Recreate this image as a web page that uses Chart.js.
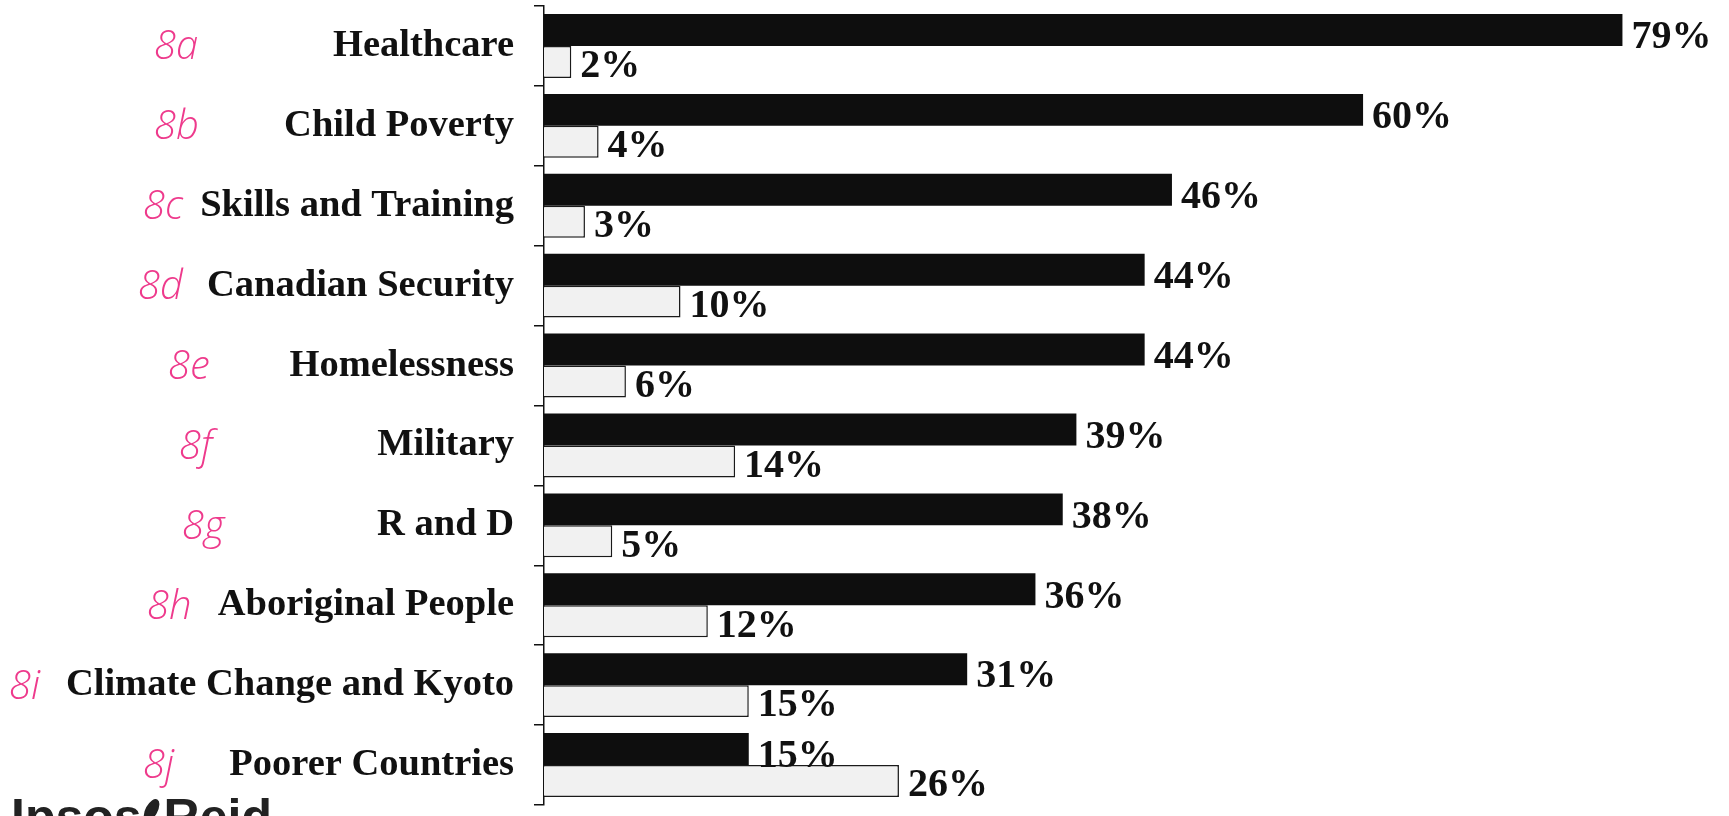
<!DOCTYPE html>
<html>
<head>
<meta charset="utf-8">
<script src="https://cdn.jsdelivr.net/npm/chart.js@4.4.0/dist/chart.umd.min.js"></script>
<style>
  html, body { margin: 0; padding: 0; background: #fff; }
  #wrap { width: 1729px; height: 816px; position: relative; }
</style>
</head>
<body>
<div id="wrap"><canvas id="myChart"></canvas></div>
<script>
/* globals Chart:false */

var issues = ['Healthcare', 'Child Poverty', 'Skills and Training', 'Canadian Security',
  'Homelessness', 'Military', 'R and D', 'Aboriginal People',
  'Climate Change and Kyoto', 'Poorer Countries'];
var highValues = [79, 60, 46, 44, 44, 39, 38, 36, 31, 15];
var lowValues = [2, 4, 3, 10, 6, 14, 5, 12, 15, 26];
var noteLabels = ['8a', '8b', '8c', '8d', '8e', '8f', '8g', '8h', '8i', '8j'];

// percentage text at the end of every bar
var barValueLabels = {
  id: 'barValueLabels',
  afterDatasetsDraw: function (chart) {
    var ctx = chart.ctx;
    var dy = [8, 5];
    ctx.save();
    ctx.font = 'bold 40px "Liberation Serif"';
    ctx.fillStyle = '#111';
    ctx.textBaseline = 'middle';
    chart.data.datasets.forEach(function (ds, di) {
      chart.getDatasetMeta(di).data.forEach(function (bar, i) {
        ctx.fillText(ds.data[i] + '%', bar.x + 9, bar.y + dy[di]);
      });
    });
    ctx.restore();
  }
};

// pen notes next to the item names, plus the logo in the corner
var pageMarks = {
  id: 'pageMarks',
  afterDraw: function (chart, args, opts) {
    var ctx = chart.ctx;
    var y = chart.scales.y;
    ctx.save();
    ctx.fillStyle = '#ee3a8c';
    ctx.font = 'italic 300 40px "Open Sans"';
    ctx.textBaseline = 'middle';
    noteLabels.forEach(function (t, i) {
      ctx.fillText(t, opts.noteX[i], y.getPixelForValue(i) + 2);
    });

    ctx.fillStyle = '#222';
    ctx.font = 'bold 50px "Liberation Sans"';
    ctx.textBaseline = 'alphabetic';
    ctx.fillText('Ipsos', 11, 834);
    var w = ctx.measureText('Ipsos').width;
    ctx.beginPath();
    ctx.ellipse(11 + w + 10, 810, 6, 12, 0.5, 0, Math.PI * 2);
    ctx.fill();
    ctx.fillText('Reid', 11 + w + 22, 834);
    ctx.restore();
  }
};

var ctx = document.getElementById('myChart');
var myChart = new Chart(ctx, {
  type: 'bar',
  data: {
    labels: issues,
    datasets: [{
      data: highValues,
      backgroundColor: '#0e0e0e',
      borderWidth: 0
    }, {
      data: lowValues,
      backgroundColor: '#f1f1f1',
      borderColor: '#1a1a1a',
      borderWidth: 1.5
    }]
  },
  options: {
    indexAxis: 'y',
    responsive: true,
    maintainAspectRatio: false,
    animation: false,
    categoryPercentage: 0.8,
    barPercentage: 1,
    layout: { padding: { top: 6, bottom: 11, left: 0, right: 11 } },
    scales: {
      x: { display: false, min: 0, max: 86 },
      y: {
        afterFit: function (scale) {
          scale.width = 544;
          scale.paddingTop = 0;
          scale.paddingBottom = 0;
        },
        border: { display: true, color: '#111', width: 1.5 },
        grid: { drawOnChartArea: false, drawTicks: true, tickLength: 10, color: '#111', lineWidth: 1.5 },
        ticks: {
          color: '#111',
          padding: 20,
          font: { family: 'Liberation Serif', size: 38.5, weight: 'bold' }
        }
      }
    },
    plugins: {
      legend: { display: false },
      tooltip: { enabled: false },
      pageMarks: { noteX: [154, 154, 143, 138, 168, 179, 182, 147, 9, 143] }
    }
  },
  plugins: [barValueLabels, pageMarks]
});
</script>
</body>
</html>
